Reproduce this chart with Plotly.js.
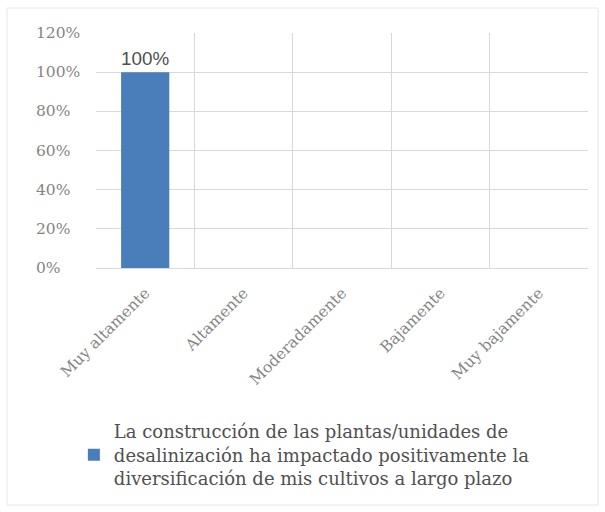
<!DOCTYPE html>
<html>
<head>
<meta charset="utf-8">
<script src="https://cdn.plot.ly/plotly-3.0.1.min.js"></script>
<style>html,body{margin:0;padding:0;background:#fff;}#chart{width:605px;height:512px;}</style>
</head>
<body>
<div id="chart"></div>
<script>
var categories = ["Muy altamente", "Altamente", "Moderadamente", "Bajamente", "Muy bajamente"];
var values = [100, 0, 0, 0, 0];
var valueLabels = ["100%", "", "", "", ""];
var seriesName = "La construcción de las plantas/unidades de<br>desalinización ha impactado positivamente la<br>diversificación de mis cultivos a largo plazo";
var yTickVals = [0, 20, 40, 60, 80, 100, 120];
var yTickText = ["0%", "20%", "40%", "60%", "80%", "100%", "120%"];

var trace = {
  type: "bar",
  x: categories,
  y: values,
  name: seriesName,
  text: valueLabels,
  textposition: "outside",
  cliponaxis: false,
  textfont: {family: "Liberation Sans, Arial, sans-serif", size: 22, color: "#505050"},
  marker: {color: "#4a7ebb"},
  width: 0.49,
  showlegend: true,
  hoverinfo: "none"
};

// y tick labels are left-aligned in the reference: place them via the y axis scale
var yLabelAnnotations = yTickVals.map(function (v, i) {
  return {
    xref: "paper", yref: "y", x: -62 / 492, y: v,
    xanchor: "left", yanchor: "middle",
    text: yTickText[i], showarrow: false,
    font: {family: "DejaVu Serif", size: 15.5, color: "#858585"}
  };
});

var layout = {
  width: 605, height: 512,
  margin: {l: 96, r: 17, t: 33, b: 244},
  paper_bgcolor: "#ffffff",
  plot_bgcolor: "#ffffff",
  showlegend: true,
  xaxis: {
    type: "category",
    tickangle: -45,
    tickson: "boundaries",
    showgrid: true,
    gridcolor: "#d9d9d9",
    gridwidth: 1,
    showline: false,
    zeroline: false,
    ticks: "",
    ticklabelstandoff: 12,
    tickfont: {family: "DejaVu Serif", size: 15.5, color: "#858585"},
    range: [-0.5, 4.5]
  },
  yaxis: {
    range: [0, 120],
    tickvals: yTickVals,
    showticklabels: false,
    showgrid: true,
    gridcolor: "#d9d9d9",
    gridwidth: 1,
    zeroline: true,
    zerolinecolor: "#d9d9d9",
    zerolinewidth: 1,
    showline: false,
    ticks: ""
  },
  annotations: yLabelAnnotations,
  legend: {
    orientation: "v",
    x: -0.045, xanchor: "left",
    y: -0.796, yanchor: "middle",
    font: {family: "DejaVu Serif", size: 18, color: "#505050"},
    bgcolor: "rgba(0,0,0,0)",
    itemclick: false
  },
  shapes: [{
    type: "rect", xref: "paper", yref: "paper",
    x0: -89 / 492, x1: 502 / 492, y0: -237 / 235, y1: 1 + 25 / 235,
    line: {color: "#e8e8e8", width: 1}, fillcolor: "rgba(0,0,0,0)", layer: "below"
  }]
};

Plotly.newPlot("chart", [trace], layout, {displayModeBar: false, staticPlot: true});
</script>
</body>
</html>
